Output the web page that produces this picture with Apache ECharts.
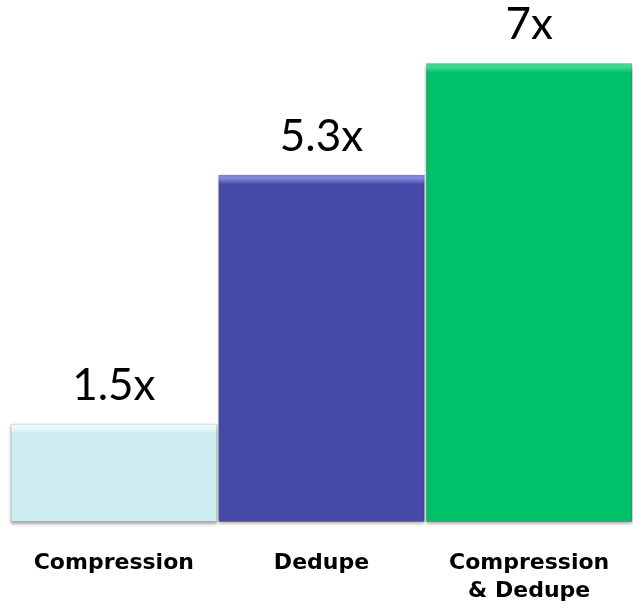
<!DOCTYPE html>
<html>
<head>
<meta charset="utf-8">
<script src="https://cdn.jsdelivr.net/npm/echarts@6/dist/echarts.min.js"></script>
<style>
  html, body { margin: 0; padding: 0; background: #fff; }
  #chart { width: 633px; height: 607px; }
</style>
</head>
<body>
<div id="chart"></div>
<script>
// Data reduction ratios by technique
const categories = ['Compression', 'Dedupe', 'Compression\n& Dedupe'];
const ratios = [1.5, 5.3, 7];
const barColors = ['#cdecf0', '#454aa9', '#00c06a'];
const bevelColors = ['#eefafb', '#8489dc', '#45d893'];

const chart = echarts.init(document.getElementById('chart'));

// Bevelled look: a lighter band along the top edge of each bar, fading into the fill
function bevelFill(i) {
  const band = Math.min(0.1 / ratios[i], 0.5);
  return {
    type: 'linear', x: 0, y: 0, x2: 0, y2: 1,
    colorStops: [
      { offset: 0, color: bevelColors[i] },
      { offset: band * 0.6, color: bevelColors[i] },
      { offset: band * 1.5, color: barColors[i] },
      { offset: 1, color: barColors[i] }
    ]
  };
}

chart.setOption({
  animation: false,
  grid: { left: 10, right: 0, top: 63, bottom: 85 },
  xAxis: {
    type: 'category',
    data: categories,
    axisLine: { show: false },
    axisTick: { show: false },
    axisLabel: {
      interval: 0,
      hideOverlap: false,
      margin: 27,
      fontFamily: 'DejaVu Sans',
      fontWeight: 'bold',
      fontSize: 22,
      lineHeight: 28,
      color: '#000'
    }
  },
  yAxis: {
    type: 'value',
    min: 0,
    max: 7,
    show: false
  },
  series: [{
    type: 'bar',
    barCategoryGap: '0.5%',
    data: ratios.map((v, i) => ({
      value: v,
      itemStyle: {
        color: bevelFill(i),
        borderColor: 'rgba(0,0,0,0.12)',
        borderWidth: 1,
        shadowColor: 'rgba(0,0,0,0.35)',
        shadowBlur: 3,
        shadowOffsetY: 2
      }
    })),
    label: {
      show: true,
      position: 'top',
      distance: 16,
      formatter: '{c}x',
      fontFamily: 'Lato',
      fontSize: 44,
      color: '#000'
    }
  }]
});
</script>
</body>
</html>
